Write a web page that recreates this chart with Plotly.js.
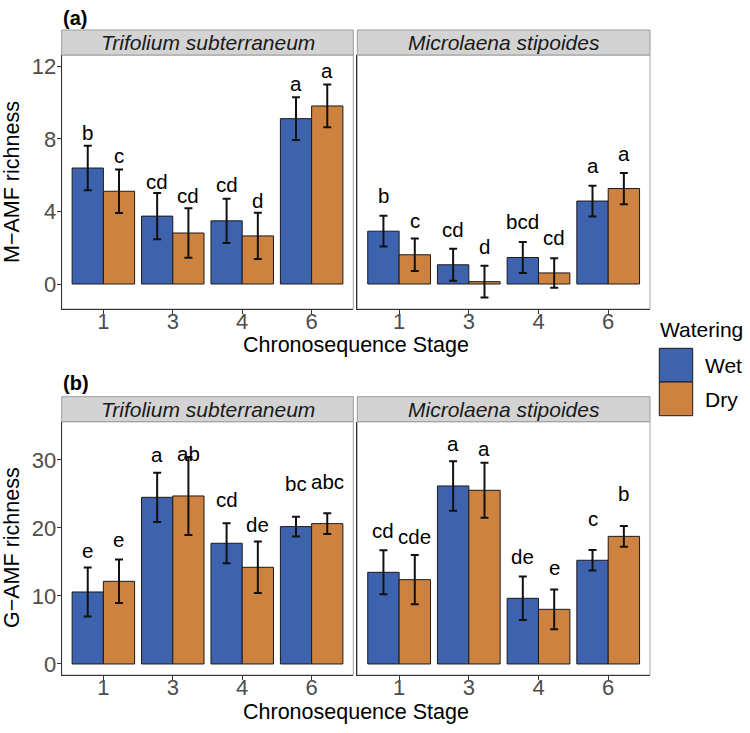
<!DOCTYPE html>
<html>
<head>
<meta charset="utf-8">
<script src="https://cdn.plot.ly/plotly-3.0.1.min.js"></script>
<style>html,body{margin:0;padding:0;background:#fff;}#chart{width:750px;height:733px;}</style>
</head>
<body>
<div id="chart"></div>
<script>
// ---------- DATA ----------
const stages = ['1', '3', '4', '6'];
const facets = ['Trifolium subterraneum', 'Microlaena stipoides'];
const groups = ['Wet', 'Dry'];

// (a) M-AMF richness
const mTrifWet = [6.39, 3.74, 3.48, 9.11];
const mTrifWetSE = [1.23, 1.27, 1.22, 1.18];
const mTrifDry = [5.11, 2.81, 2.65, 9.81];
const mTrifDrySE = [1.20, 1.37, 1.27, 1.18];
const mMicWet = [2.91, 1.06, 1.46, 4.57];
const mMicWetSE = [0.85, 0.88, 0.86, 0.85];
const mMicDry = [1.61, 0.13, 0.61, 5.26];
const mMicDrySE = [0.90, 0.88, 0.81, 0.86];
const mTrifWetLet = ['b', 'cd', 'cd', 'a'];
const mTrifWetLetY = [8.37, 5.63, 5.48, 11.06];
const mTrifDryLet = ['c', 'cd', 'd', 'a'];
const mTrifDryLetY = [7.07, 4.85, 4.59, 11.74];
const mMicWetLet = ['b', 'cd', 'bcd', 'a'];
const mMicWetLetY = [4.85, 3.00, 3.43, 6.52];
const mMicDryLet = ['c', 'd', 'cd', 'a'];
const mMicDryLetY = [3.52, 2.07, 2.57, 7.20];

// (b) G-AMF richness
const gTrifWet = [10.59, 24.51, 17.75, 20.20];
const gTrifWetSE = [3.60, 3.63, 2.95, 1.47];
const gTrifDry = [12.16, 24.71, 14.22, 20.64];
const gTrifDrySE = [3.21, 5.73, 3.78, 1.52];
const gMicWet = [13.48, 26.18, 9.66, 15.25];
const gMicWetSE = [3.24, 3.65, 3.21, 1.50];
const gMicDry = [12.40, 25.54, 8.04, 18.77];
const gMicDrySE = [3.63, 4.05, 2.92, 1.52];
const gTrifWetLet = ['e', 'a', 'cd', 'bc'];
const gTrifWetLetY = [16.76, 30.74, 24.12, 26.47];
const gTrifDryLet = ['e', 'ab', 'de', 'abc'];
const gTrifDryLetY = [18.33, 30.98, 20.44, 26.91];
const gMicWetLet = ['cd', 'a', 'de', 'c'];
const gMicWetLetY = [19.70, 32.45, 15.88, 21.42];
const gMicDryLet = ['cde', 'a', 'e', 'b'];
const gMicDryLetY = [18.73, 31.72, 14.22, 25.00];

const yTicksA = [0, 4, 8, 12];
const yTicksB = [0, 10, 20, 30];

// ---------- STYLE / LAYOUT ----------
const W = 750, H = 733;
const px = v => v / W;
const py = v => 1 - v / H;
const FONT = 'Liberation Sans, Arial, Helvetica, sans-serif';
const COL = {Wet: '#3E63AE', Dry: '#CD833F'};
const DARK = '#333333';

const xDomL = [px(61.7), px(353.3)];
const xDomR = [px(357.3), px(650)];
const yDomA = [py(309), py(55)];
const yDomB = [py(675), py(421.7)];
const stripTopA = py(30), stripTopB = py(396.7);

function barTrace(vals, se, name, xa, ya) {
  return {
    type: 'bar', x: stages, y: vals, name: name, xaxis: xa, yaxis: ya,
    marker: {color: COL[name], line: {color: '#1a1a1a', width: 1}},
    error_y: {type: 'data', array: se, visible: true, color: '#111', thickness: 2, width: 4},
    showlegend: false, hoverinfo: 'skip'
  };
}

const traces = [
  barTrace(mTrifWet, mTrifWetSE, 'Wet', 'x', 'y'),
  barTrace(mTrifDry, mTrifDrySE, 'Dry', 'x', 'y'),
  barTrace(mMicWet, mMicWetSE, 'Wet', 'x2', 'y2'),
  barTrace(mMicDry, mMicDrySE, 'Dry', 'x2', 'y2'),
  barTrace(gTrifWet, gTrifWetSE, 'Wet', 'x3', 'y3'),
  barTrace(gTrifDry, gTrifDrySE, 'Dry', 'x3', 'y3'),
  barTrace(gMicWet, gMicWetSE, 'Wet', 'x4', 'y4'),
  barTrace(gMicDry, gMicDrySE, 'Dry', 'x4', 'y4')
];

const tickFont = {family: FONT, size: 22, color: '#4D4D4D'};

function xAxis(dom, anchor) {
  return {
    domain: dom, anchor: anchor, type: 'category', categoryorder: 'array', categoryarray: stages,
    range: [-0.6, 3.6], showline: true, linecolor: DARK, linewidth: 1, mirror: false,
    ticks: 'outside', ticklen: 4, tickcolor: DARK, tickwidth: 1, ticklabelstandoff: -11,
    tickfont: tickFont, showgrid: false, zeroline: false, fixedrange: true
  };
}
function yAxis(dom, anchor, range, tv, showLabels) {
  return {
    domain: dom, anchor: anchor, range: range, tickvals: tv, ticktext: tv.map(String),
    showline: true, linecolor: DARK, linewidth: 1, mirror: false,
    ticks: showLabels ? 'outside' : '', ticklen: 4, tickcolor: DARK, tickwidth: 1,
    showticklabels: showLabels, ticklabelstandoff: -4,
    tickfont: tickFont, showgrid: false, zeroline: false, fixedrange: true
  };
}

const rangeA = [-1.377, 12.617];
const rangeB = [-1.62, 35.63];

const shapes = [];
const annotations = [];

// panel borders
['', '2', '3', '4'].forEach(s => {
  shapes.push({type: 'rect', xref: 'x' + s + ' domain', yref: 'y' + s + ' domain', x0: 0, x1: 1, y0: 0, y1: 1,
    line: {color: '#A6A6A6', width: 1}, fillcolor: 'rgba(0,0,0,0)', layer: 'below'});
});
// strips
[[xDomL, yDomA[1], stripTopA, facets[0]], [xDomR, yDomA[1], stripTopA, facets[1]],
 [xDomL, yDomB[1], stripTopB, facets[0]], [xDomR, yDomB[1], stripTopB, facets[1]]].forEach(([xd, y0, y1, t]) => {
  shapes.push({type: 'rect', xref: 'paper', yref: 'paper', x0: xd[0], x1: xd[1], y0: y0, y1: y1,
    fillcolor: '#D3D3D3', line: {color: '#9A9A9A', width: 1}});
  annotations.push({xref: 'paper', yref: 'paper', x: (xd[0] + xd[1]) / 2, y: (y0 + y1) / 2, text: '<i>' + t + '</i>',
    showarrow: false, xanchor: 'center', yanchor: 'middle', font: {family: FONT, size: 21, color: '#1A1A1A'}});
});

// significance letters
function letters(xa, ya, lets, ys, shift) {
  lets.forEach((t, i) => annotations.push({xref: xa, yref: ya, x: i + shift, y: ys[i], text: t, showarrow: false,
    xanchor: 'center', yanchor: 'middle', font: {family: FONT, size: 20.5, color: '#000'}}));
}
letters('x', 'y', mTrifWetLet, mTrifWetLetY, -0.225);
letters('x', 'y', mTrifDryLet, mTrifDryLetY, 0.225);
letters('x2', 'y2', mMicWetLet, mMicWetLetY, -0.225);
letters('x2', 'y2', mMicDryLet, mMicDryLetY, 0.225);
letters('x3', 'y3', gTrifWetLet, gTrifWetLetY, -0.225);
letters('x3', 'y3', gTrifDryLet, gTrifDryLetY, 0.225);
letters('x4', 'y4', gMicWetLet, gMicWetLetY, -0.225);
letters('x4', 'y4', gMicDryLet, gMicDryLetY, 0.225);

// axis titles and panel tags
const titleFont = {family: FONT, size: 21.5, color: '#000'};
annotations.push({xref: 'paper', yref: 'paper', x: px(12), y: py(182), text: 'M−AMF richness', textangle: -90,
  showarrow: false, xanchor: 'center', yanchor: 'middle', font: titleFont});
annotations.push({xref: 'paper', yref: 'paper', x: px(12), y: py(548), text: 'G−AMF richness', textangle: -90,
  showarrow: false, xanchor: 'center', yanchor: 'middle', font: titleFont});
annotations.push({xref: 'paper', yref: 'paper', x: px(355.5), y: py(345), text: 'Chronosequence Stage',
  showarrow: false, xanchor: 'center', yanchor: 'middle', font: titleFont});
annotations.push({xref: 'paper', yref: 'paper', x: px(355.5), y: py(712), text: 'Chronosequence Stage',
  showarrow: false, xanchor: 'center', yanchor: 'middle', font: titleFont});
annotations.push({xref: 'paper', yref: 'paper', x: px(61), y: py(18), text: '<b>(a)</b>',
  showarrow: false, xanchor: 'left', yanchor: 'middle', font: {family: FONT, size: 20, color: '#000'}});
annotations.push({xref: 'paper', yref: 'paper', x: px(61), y: py(383), text: '<b>(b)</b>',
  showarrow: false, xanchor: 'left', yanchor: 'middle', font: {family: FONT, size: 20, color: '#000'}});

// legend (drawn manually to match key size)
annotations.push({xref: 'paper', yref: 'paper', x: px(658), y: py(329), text: 'Watering', showarrow: false,
  xanchor: 'left', yanchor: 'middle', font: {family: FONT, size: 21, color: '#000'}});
groups.forEach((g, i) => {
  const top = 348.3 + i * 33.7;
  shapes.push({type: 'rect', xref: 'paper', yref: 'paper', x0: px(659.3), x1: px(692.7), y0: py(top + 33.7), y1: py(top),
    fillcolor: COL[g], line: {color: '#1a1a1a', width: 1}});
  annotations.push({xref: 'paper', yref: 'paper', x: px(703), y: py(top + 17), text: g, showarrow: false,
    xanchor: 'left', yanchor: 'middle', font: {family: FONT, size: 21, color: '#000'}});
});

const layout = {
  width: W, height: H, margin: {l: 0, r: 0, t: 0, b: 0},
  paper_bgcolor: '#fff', plot_bgcolor: '#fff',
  barmode: 'group', bargap: 0.1, bargroupgap: 0,
  showlegend: false,
  font: {family: FONT},
  xaxis: xAxis(xDomL, 'y'),
  xaxis2: xAxis(xDomR, 'y2'),
  xaxis3: xAxis(xDomL, 'y3'),
  xaxis4: xAxis(xDomR, 'y4'),
  yaxis: yAxis(yDomA, 'x', rangeA, yTicksA, true),
  yaxis2: yAxis(yDomA, 'x2', rangeA, yTicksA, false),
  yaxis3: yAxis(yDomB, 'x3', rangeB, yTicksB, true),
  yaxis4: yAxis(yDomB, 'x4', rangeB, yTicksB, false),
  shapes: shapes, annotations: annotations
};

Plotly.newPlot('chart', traces, layout, {displayModeBar: false, staticPlot: true});
</script>
</body>
</html>
